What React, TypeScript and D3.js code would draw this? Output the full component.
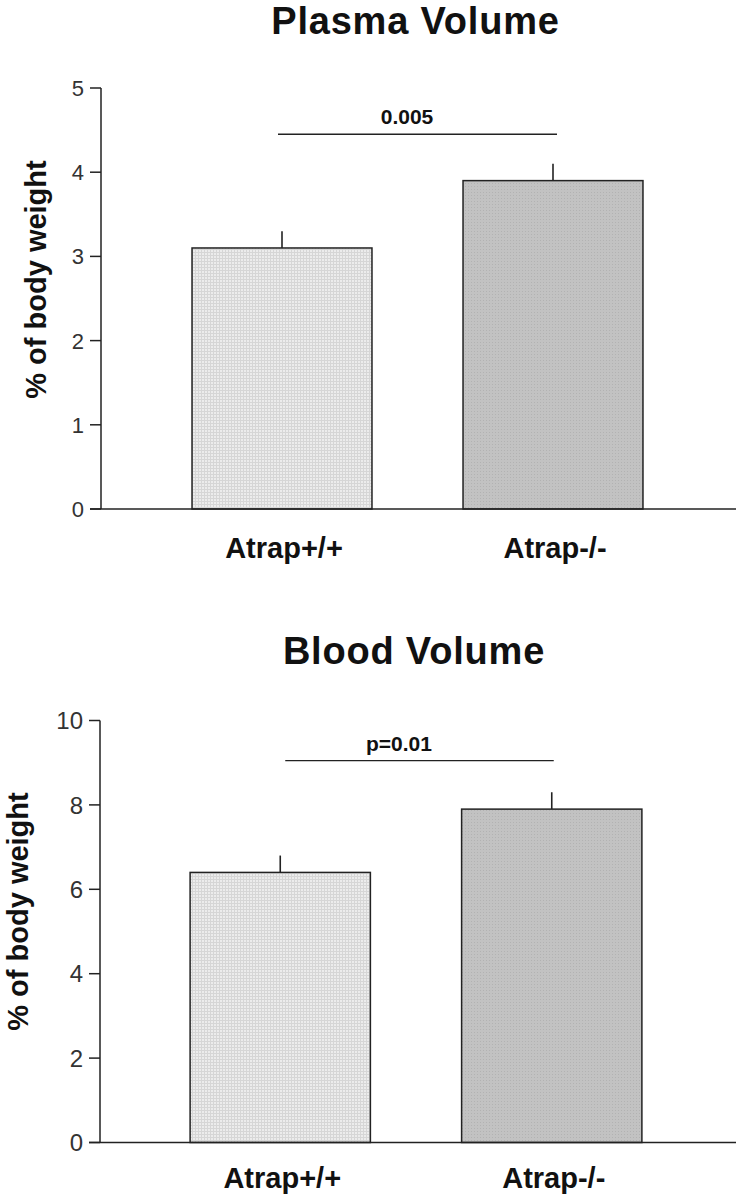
import React from "react";
import * as d3 from "d3";

const groups = ["Atrap+/+", "Atrap-/-"];
const plasmaMeans = [3.1, 3.9];
const plasmaErrors = [0.2, 0.2];
const bloodMeans = [6.4, 7.9];
const bloodErrors = [0.4, 0.4];
const plasmaTicks = [0, 1, 2, 3, 4, 5];
const bloodTicks = [0, 2, 4, 6, 8, 10];
const plasmaP = "0.005";
const bloodP = "p=0.01";
const plasmaPLevel = 4.45;
const bloodPLevel = 9.05;

const FONT = "'Liberation Sans', Arial, Helvetica, sans-serif";
const INK = "#222";

type PanelProps = {
  title: string;
  titleX: number;
  titleY: number;
  means: number[];
  errors: number[];
  ticks: number[];
  yMax: number;
  yTop: number;
  yBottom: number;
  axisX: number;
  xRange: [number, number];
  tickFont: number;
  yLabelX: number;
  yLabelShift: number;
  pText: string;
  pLevel: number;
  pTextX: number;
  pLineOffsets: [number, number];
  xLabelY: number;
};

function Panel(p: PanelProps) {
  const y = d3.scaleLinear().domain([0, p.yMax]).range([p.yBottom, p.yTop]);
  const x = d3
    .scaleBand<string>()
    .domain(groups)
    .range(p.xRange)
    .paddingInner(0.336)
    .paddingOuter(0.168);
  const bw = x.bandwidth();
  const fills = ["url(#gridPat)", "url(#dotPat)"];
  const c1 = (x(groups[0]) as number) + bw / 2;
  const c2 = (x(groups[1]) as number) + bw / 2;
  const lineY = y(p.pLevel);
  return (
    <g>
      <text
        x={p.titleX}
        y={p.titleY}
        textAnchor="middle"
        fontFamily={FONT}
        fontWeight="bold"
        fontSize={38}
        fill="#111"
        letterSpacing={0.8}
      >
        {p.title}
      </text>
      {groups.map((g, i) => {
        const x0 = x(g) as number;
        const top = y(p.means[i]);
        const cx = x0 + bw / 2;
        return (
          <g key={g}>
            <line
              x1={cx}
              x2={cx}
              y1={top}
              y2={y(p.means[i] + p.errors[i])}
              stroke={INK}
              strokeWidth={1.6}
            />
            <rect
              x={x0}
              y={top}
              width={bw}
              height={y(0) - top}
              fill={fills[i]}
              stroke={INK}
              strokeWidth={1.5}
            />
          </g>
        );
      })}
      <line
        x1={p.axisX}
        x2={p.axisX}
        y1={y(p.yMax)}
        y2={y(0)}
        stroke={INK}
        strokeWidth={1.5}
      />
      {p.ticks.map((t) => (
        <g key={t}>
          <line
            x1={p.axisX - 11}
            x2={p.axisX}
            y1={y(t)}
            y2={y(t)}
            stroke={INK}
            strokeWidth={1.5}
          />
          <text
            x={p.axisX - 17}
            y={y(t)}
            dy="0.36em"
            textAnchor="end"
            fontFamily={FONT}
            fontSize={p.tickFont}
            fill="#333"
          >
            {t}
          </text>
        </g>
      ))}
      <line
        x1={p.axisX - 11}
        x2={736}
        y1={y(0)}
        y2={y(0)}
        stroke={INK}
        strokeWidth={1.6}
      />
      <text
        transform={`translate(${p.yLabelX},${(y(0) + y(p.yMax)) / 2 + p.yLabelShift}) rotate(-90)`}
        textAnchor="middle"
        fontFamily={FONT}
        fontWeight="bold"
        fontSize={29}
        fill="#111"
      >
        % of body weight
      </text>
      {groups.map((g) => (
        <text
          key={g}
          x={(x(g) as number) + bw / 2 + 2}
          y={p.xLabelY}
          textAnchor="middle"
          fontFamily={FONT}
          fontWeight="bold"
          fontSize={29}
          fill="#111"
        >
          {g}
        </text>
      ))}
      <line
        x1={c1 + p.pLineOffsets[0]}
        x2={c2 + p.pLineOffsets[1]}
        y1={lineY}
        y2={lineY}
        stroke={INK}
        strokeWidth={1.4}
      />
      <text
        x={p.pTextX}
        y={lineY - 10}
        textAnchor="middle"
        fontFamily={FONT}
        fontWeight="bold"
        fontSize={21}
        fill="#111"
      >
        {p.pText}
      </text>
    </g>
  );
}

export default function App() {
  return (
    <svg
      width={738}
      height={1199}
      style={{ position: "absolute", left: 0, top: 0, background: "#fff" }}
    >
      <defs>
        <pattern id="gridPat" width={3} height={3} patternUnits="userSpaceOnUse">
          <rect width={3} height={3} fill="#ececec" />
          <rect width={3} height={1} fill="#d6d6d6" />
          <rect width={1} height={3} fill="#d6d6d6" />
        </pattern>
        <pattern id="dotPat" width={3} height={3} patternUnits="userSpaceOnUse">
          <rect width={3} height={3} fill="#c2c2c2" />
          <rect width={1} height={1} fill="#b2b2b2" />
        </pattern>
      </defs>
      <rect width={738} height={1199} fill="#fff" />
      <Panel
        title="Plasma Volume"
        titleX={415.5}
        titleY={34}
        means={plasmaMeans}
        errors={plasmaErrors}
        ticks={plasmaTicks}
        yMax={5}
        yTop={88}
        yBottom={509}
        axisX={101}
        xRange={[146.5, 688.5]}
        tickFont={22}
        yLabelX={46}
        yLabelShift={-19}
        pText={plasmaP}
        pLevel={plasmaPLevel}
        pTextX={407}
        pLineOffsets={[-4, 4]}
        xLabelY={558}
      />
      <Panel
        title="Blood Volume"
        titleX={414}
        titleY={664}
        means={bloodMeans}
        errors={bloodErrors}
        ticks={bloodTicks}
        yMax={10}
        yTop={720.5}
        yBottom={1142.5}
        axisX={100}
        xRange={[144.5, 687.5]}
        tickFont={24}
        yLabelX={28}
        yLabelShift={-20}
        pText={bloodP}
        pLevel={bloodPLevel}
        pTextX={399}
        pLineOffsets={[5, 2]}
        xLabelY={1188}
      />
    </svg>
  );
}
